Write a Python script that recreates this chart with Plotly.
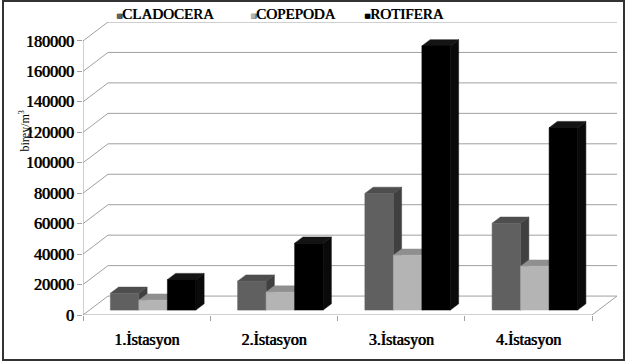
import plotly.graph_objects as go

# ---------------- data ----------------
stations = ["1.İstasyon", "2.İstasyon", "3.İstasyon", "4.İstasyon"]
series_names = ["CLADOCERA", "COPEPODA", "ROTIFERA"]
cladocera = [11000, 19000, 76600, 57000]
copepoda = [6500, 11800, 36000, 28800]
rotifera = [20000, 43900, 173500, 119800]
y_ticks = [0, 20000, 40000, 60000, 80000, 100000, 120000, 140000, 160000, 180000]
y_title = "birey/m<sup>3</sup>"

# ---------------- style / geometry ----------------
W, H = 625, 364
L, R, T, B = 83, 8, 22, 49
DX = 0.1965          # depth of the 3-D box, in category units
DY = 12436           # depth of the 3-D box, in value units
XMIN, XMAX = 0.5, 4.5 + DX
YMAX = 180000 + DY
F_FRONT = 0.26       # depth position of bar front faces
F_DEPTH = 0.33       # bar depth (fraction of box depth)
BAR_W = 0.224

front_cols = ["#606060", "#b4b4b4", "#000000"]
top_cols = ["#4e4e4e", "#8f8f8f", "#141414"]
side_cols = ["#404040", "#7c7c7c", "#0a0a0a"]
grid_col = "#a0a0a0"
FONT = "Liberation Serif, Times New Roman, serif"
FAUX_BOLD = "0.7px 0px 0px #000000"

plot_w = W - L - R
plot_h = H - T - B


def px_x(p):
    return (p - L) / plot_w


def px_y(p):
    return (H - B - p) / plot_h


fig = go.Figure()

# back wall grid lines + diagonal tick connectors + floor
gx, gy = [], []
for v in y_ticks:
    gx += [XMIN + DX, 4.5 + DX, None, XMIN, XMIN + DX, None]
    gy += [v + DY, v + DY, None, v, v + DY, None]
# front floor edge and right floor edge
gx += [XMIN, 4.5, 4.5 + DX, None]
gy += [0, 0, DY, None]
# front vertical axis
gx += [XMIN, XMIN, None]
gy += [0, y_ticks[-1], None]
fig.add_trace(go.Scatter(x=gx, y=gy, mode="lines",
                         line=dict(color=grid_col, width=1),
                         hoverinfo="skip", showlegend=False))

# 3-D bars
all_series = [cladocera, copepoda, rotifera]
base = F_FRONT * DY
ddx, ddy = F_DEPTH * DX, F_DEPTH * DY
for ci in range(len(stations)):
    for si, vals in enumerate(all_series):
        v = vals[ci]
        xc = (ci + 1) + (si - 1) * BAR_W + F_FRONT * DX
        xl, xr = xc - BAR_W / 2, xc + BAR_W / 2
        yt = base + v
        # side face
        fig.add_trace(go.Scatter(
            x=[xr, xr, xr + ddx, xr + ddx, xr], y=[base, yt, yt + ddy, base + ddy, base],
            fill="toself", fillcolor=side_cols[si], mode="lines",
            line=dict(color=side_cols[si], width=0.5), hoverinfo="skip", showlegend=False))
        # top face
        fig.add_trace(go.Scatter(
            x=[xl, xr, xr + ddx, xl + ddx, xl], y=[yt, yt, yt + ddy, yt + ddy, yt],
            fill="toself", fillcolor=top_cols[si], mode="lines",
            line=dict(color=top_cols[si], width=0.5), hoverinfo="skip", showlegend=False))
        # front face
        fig.add_trace(go.Scatter(
            x=[xl, xr, xr, xl, xl], y=[base, base, yt, yt, base],
            fill="toself", fillcolor=front_cols[si], mode="lines",
            line=dict(color=front_cols[si], width=0.5),
            name=series_names[si], text=[stations[ci]] * 5,
            hovertemplate="%{text}<br>" + series_names[si] + ": " + f"{v}<extra></extra>",
            showlegend=False))

tick_font = dict(family=FONT, size=16, color="#000000", shadow=FAUX_BOLD)

fig.update_xaxes(range=[XMIN, XMAX], showgrid=False, zeroline=False, showline=False,
                 automargin=False,
                 tickmode="array", tickvals=[1, 2, 3, 4], ticktext=stations,
                 ticks="", tickfont=tick_font, ticklabelstandoff=13,
                 minor=dict(tickmode="linear", tick0=0.5, dtick=1, ticks="outside",
                            ticklen=5, tickcolor=grid_col, tickwidth=1, showgrid=False))
fig.update_yaxes(range=[0, YMAX], showgrid=False, zeroline=False, showline=False,
                 automargin=False,
                 tickmode="array", tickvals=y_ticks, ticktext=[str(t) for t in y_ticks],
                 ticks="outside", ticklen=5, tickcolor=grid_col, tickwidth=1,
                 tickfont=tick_font)

annotations = [
    dict(text=y_title, x=px_x(14), y=px_y(131), xref="paper", yref="paper",
         textangle=-90, showarrow=False,
         font=dict(family=FONT, size=12, color="#000000")),
]
legend_x = [114, 248, 362]
for si, name in enumerate(series_names):
    annotations.append(dict(
        text=f"<span style='color:{front_cols[si]};font-size:10px'>■</span>{name}",
        x=px_x(legend_x[si]), y=px_y(14), xref="paper", yref="paper",
        xanchor="left", yanchor="middle", showarrow=False,
        font=dict(family=FONT, size=15, color="#000000", shadow=FAUX_BOLD)))

fig.update_layout(
    width=W, height=H, autosize=False,
    margin=dict(l=L, r=R, t=T, b=B, autoexpand=False),
    paper_bgcolor="#ffffff", plot_bgcolor="#ffffff",
    showlegend=False,
    annotations=annotations,
    shapes=[dict(type="rect", xref="paper", yref="paper",
                 x0=px_x(3), x1=px_x(624), y0=px_y(360), y1=px_y(1),
                 line=dict(color="#333333", width=2), fillcolor="rgba(0,0,0,0)",
                 layer="above")],
)

fig.write_html("out.html", config={"displayModeBar": False},
               post_script="document.body.style.margin='0px';")
